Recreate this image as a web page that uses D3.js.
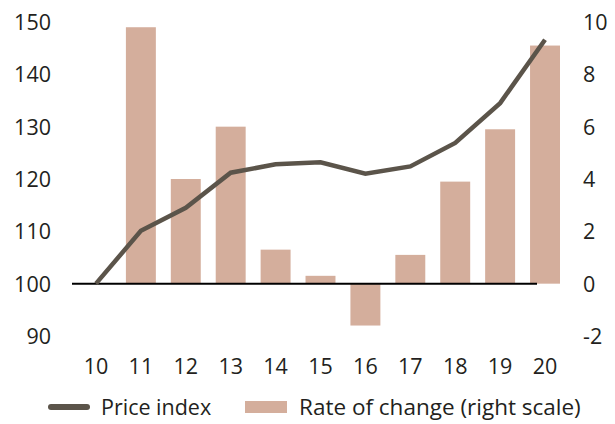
<!DOCTYPE html>
<html><head><meta charset="utf-8">
<script src="https://cdn.jsdelivr.net/npm/d3@7"></script>
<style>body{margin:0;background:#fff}svg{display:block}text{font-family:"Open Sans","Noto Sans",sans-serif;fill:#231f20}</style>
</head><body><svg id="c" width="615" height="424"></svg>
<script>
const years = ["10","11","12","13","14","15","16","17","18","19","20"];
const priceIndex = [100,110.1,114.5,121.2,122.8,123.2,121.0,122.4,126.9,134.5,146.6];
const rateOfChange = [null,9.8,4.0,6.0,1.3,0.3,-1.6,1.1,3.9,5.9,9.1];
const leftTicks = [90,100,110,120,130,140,150];
const rightTicks = [-2,0,2,4,6,8,10];
const legendLabels = ["Price index","Rate of change (right scale)"];

const svg = d3.select("#c");
const x = d3.scaleBand().domain(years).range([73.5,567.5]).paddingInner(0.333).paddingOuter(0.167);
const yL = d3.scaleLinear().domain([90,150]).range([336,22]);
const yR = d3.scaleLinear().domain([-2,10]).range([336,22]);
const barColor = "#d4ae9c", lineColor = "#5b544a";
const fs = "21.5px";

// bars
svg.append("g").selectAll("rect").data(years.map((y,i)=>({y,v:rateOfChange[i]})).filter(d=>d.v!==null))
  .join("rect")
  .attr("x",d=>x(d.y)).attr("width",x.bandwidth())
  .attr("y",d=>Math.min(yR(d.v),yR(0))).attr("height",d=>Math.abs(yR(d.v)-yR(0)))
  .attr("fill",barColor);

// zero line
svg.append("line").attr("x1",72).attr("x2",537).attr("y1",yR(0)).attr("y2",yR(0))
  .attr("stroke","#000").attr("stroke-width",2);

// price line
const line = d3.line().x((d,i)=>x(years[i])+x.bandwidth()/2).y(d=>yL(d));
svg.append("path").attr("d",line(priceIndex)).attr("fill","none")
  .attr("stroke",lineColor).attr("stroke-width",4.5).attr("stroke-linejoin","miter");

// left axis
const axL = d3.axisLeft(yL).tickValues(leftTicks).tickSize(0).tickPadding(0).tickFormat(d=>String(d));
const gL = svg.append("g").attr("transform","translate(51,0)").call(axL);
gL.select(".domain").remove();
gL.selectAll("text").style("font-size",fs).attr("fill","#231f20").attr("dy","0.35em");

// right axis
const axR = d3.axisRight(yR).tickValues(rightTicks).tickSize(0).tickPadding(0).tickFormat(d=>String(d));
const gR = svg.append("g").attr("transform","translate(583,0)").call(axR);
gR.select(".domain").remove();
gR.selectAll("text").style("font-size",fs).attr("fill","#231f20").attr("dy","0.35em");

// x axis
const axX = d3.axisBottom(x).tickSize(0).tickPadding(0);
const gX = svg.append("g").attr("transform","translate(0,366)").call(axX);
gX.select(".domain").remove();
gX.selectAll("text").style("font-size",fs).attr("fill","#231f20").attr("dy","0.35em");

// legend
const lg = svg.append("g");
lg.append("line").attr("x1",51).attr("x2",87).attr("y1",407).attr("y2",407)
  .attr("stroke",lineColor).attr("stroke-width",6).attr("stroke-linecap","round");
lg.append("text").attr("x",101).attr("y",407).attr("dy","0.35em").style("font-size","21.5px").text(legendLabels[0]);
lg.append("rect").attr("x",245).attr("y",401).attr("width",42).attr("height",12).attr("fill",barColor);
lg.append("text").attr("x",299).attr("y",407).attr("dy","0.35em").style("font-size","22.5px").text(legendLabels[1]);
</script></body></html>
